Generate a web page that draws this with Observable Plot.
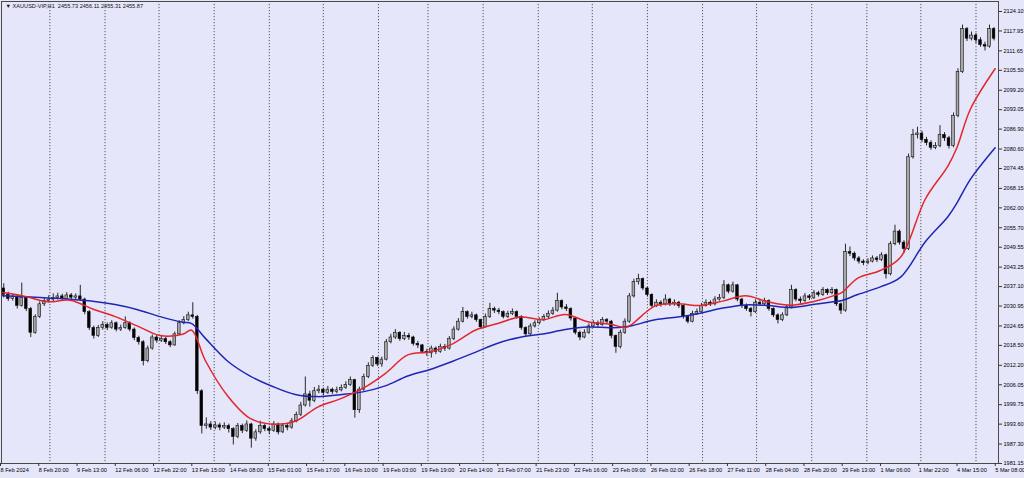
<!DOCTYPE html>
<html><head><meta charset="utf-8">
<script src="https://cdn.jsdelivr.net/npm/d3@7"></script>
<script src="https://cdn.jsdelivr.net/npm/@observablehq/plot@0.6"></script>
<style>
html,body{margin:0;padding:0;background:#e6e6fa;}
#chart{width:1024px;height:478px;overflow:hidden}
</style></head><body><div id="chart"></div>
<script>
const symbolTitle = "▼ XAUUSD-VIP,H1  2455.73 2456.11 2455.31 2455.87";
const firstOpen = 2036.5;
const close = [
2034.5,2033.2,2033.8,2031.0,2033.5,2030.0,2022.5,2027.5,2031.5,2032.5,
2033.0,2033.5,2034.0,2033.2,2034.3,2033.6,2034.0,2033.0,2029.0,2024.0,
2021.5,2024.0,2025.0,2024.0,2025.5,2023.5,2024.0,2025.5,2023.5,2020.8,
2019.5,2013.5,2017.5,2021.0,2020.0,2020.5,2019.5,2018.5,2022.0,2025.5,
2026.5,2028.0,2027.5,2004.0,1993.0,1993.5,1992.5,1993.2,1992.5,1993.0,
1992.0,1989.5,1993.0,1991.5,1993.5,1989.0,1991.0,1993.0,1992.0,1991.5,
1993.5,1991.0,1993.0,1992.5,1994.5,1996.5,1999.5,2003.0,2001.0,2004.0,
2004.5,2003.5,2004.5,2003.8,2004.3,2005.0,2006.0,2007.5,1998.0,2004.5,
2008.5,2012.0,2014.5,2012.5,2014.0,2019.5,2021.0,2022.5,2020.5,2021.5,
2021.0,2019.0,2018.5,2016.5,2016.0,2017.5,2016.5,2018.0,2017.5,2020.5,
2023.5,2026.0,2029.0,2027.5,2028.0,2026.5,2024.2,2027.5,2030.0,2029.5,
2029.0,2027.5,2028.5,2029.0,2027.5,2024.0,2022.0,2024.5,2025.5,2026.5,
2027.5,2028.5,2029.5,2032.5,2030.5,2030.0,2027.0,2022.5,2021.0,2022.5,
2024.5,2025.5,2025.0,2026.5,2026.0,2021.5,2018.0,2022.5,2026.0,2034.0,
2038.5,2039.5,2036.5,2034.5,2031.0,2032.0,2031.5,2033.0,2031.5,2032.0,
2031.0,2027.5,2026.0,2028.5,2029.0,2031.0,2032.0,2031.5,2033.0,2033.5,
2037.5,2035.5,2037.5,2033.0,2031.0,2030.0,2029.0,2032.0,2031.5,2032.5,
2030.0,2028.0,2026.5,2028.0,2030.5,2036.0,2033.0,2032.5,2034.0,2033.5,
2035.0,2034.5,2036.0,2035.0,2036.0,2031.5,2029.5,2048.0,2047.5,2046.0,
2045.0,2044.5,2045.0,2046.0,2045.5,2047.0,2041.0,2050.5,2054.5,2051.0,
2049.0,2078.0,2085.0,2085.5,2083.5,2082.5,2081.0,2081.5,2085.0,2084.0,
2081.5,2091.0,2105.0,2118.5,2115.5,2116.5,2115.0,2113.5,2113.0,2118.5,
2115.5];
const high = [
2038.0,2035.3,2034.6,2034.2,2038.2,2034.0,2030.5,2028.2,2032.3,2033.6,
2034.2,2034.8,2035.0,2034.7,2035.2,2034.9,2034.8,2037.5,2033.4,2029.5,
2024.6,2024.8,2026.0,2025.6,2026.3,2025.9,2024.9,2027.5,2026.0,2024.0,
2021.4,2020.0,2018.3,2021.8,2021.7,2021.3,2021.0,2020.0,2022.7,2026.3,
2027.6,2029.0,2032.0,2028.0,2004.5,1995.6,1994.4,1994.3,1993.9,1994.0,
1993.6,1992.5,1993.8,1993.6,1994.6,1993.9,1991.8,1994.5,1993.6,1992.8,
1994.4,1993.9,1993.8,1993.7,1995.4,1997.4,2000.5,2008.5,2004.0,2005.2,
2005.8,2005.0,2005.5,2005.0,2005.3,2006.0,2007.0,2008.5,2007.8,2005.3,
2009.4,2013.0,2015.2,2014.8,2014.8,2020.4,2022.0,2023.5,2022.8,2022.6,
2022.3,2021.4,2019.8,2018.8,2017.3,2018.3,2018.0,2018.9,2018.8,2021.3,
2024.4,2027.0,2030.5,2029.4,2029.0,2028.4,2026.8,2028.4,2031.8,2030.6,
2030.2,2029.4,2029.3,2030.0,2029.4,2027.9,2024.4,2025.3,2026.3,2027.2,
2028.3,2029.4,2030.5,2035.0,2032.9,2031.4,2030.4,2027.4,2023.0,2023.4,
2025.3,2026.3,2026.2,2027.3,2027.0,2026.4,2021.8,2023.3,2026.9,2034.9,
2039.4,2041.0,2039.8,2036.9,2034.8,2032.9,2032.6,2034.5,2033.4,2032.9,
2032.4,2031.3,2027.9,2029.3,2030.0,2031.8,2032.9,2032.6,2033.9,2034.6,
2039.0,2037.9,2038.5,2037.8,2033.4,2031.6,2030.5,2032.9,2032.7,2033.4,
2032.9,2030.4,2028.5,2028.8,2031.3,2037.5,2036.4,2033.8,2034.9,2034.6,
2035.9,2035.6,2036.8,2036.4,2036.8,2036.3,2031.9,2050.5,2049.6,2048.0,
2046.6,2045.6,2045.9,2046.8,2046.6,2047.8,2047.4,2051.3,2056.5,2055.0,
2051.6,2079.0,2086.8,2087.5,2086.2,2084.3,2083.2,2082.6,2088.0,2085.8,
2084.6,2092.0,2106.0,2119.8,2119.0,2117.6,2117.2,2115.8,2114.4,2119.8,
2119.0];
const low = [
2033.5,2032.4,2032.5,2030.0,2030.6,2029.2,2021.0,2022.0,2027.0,2030.8,
2031.9,2032.4,2032.9,2032.6,2032.8,2033.0,2032.9,2032.4,2028.2,2023.2,
2020.5,2021.0,2023.3,2023.2,2023.6,2022.8,2022.9,2023.6,2022.8,2020.0,
2018.6,2012.0,2013.0,2017.0,2019.2,2019.4,2018.8,2017.8,2018.2,2021.6,
2025.0,2026.0,2026.8,2003.0,1990.5,1992.0,1991.6,1991.8,1991.5,1991.9,
1990.8,1987.0,1989.0,1990.6,1991.0,1986.0,1988.2,1990.4,1991.2,1990.3,
1991.0,1990.2,1990.6,1991.5,1992.0,1994.0,1996.0,1999.0,1999.0,2000.4,
2003.2,2002.6,2003.0,2003.0,2003.2,2003.8,2004.6,2005.5,1995.5,1997.0,
2004.0,2008.0,2011.5,2011.8,2011.6,2013.6,2019.0,2020.4,2019.8,2020.0,
2020.1,2018.3,2017.5,2015.8,2015.0,2014.5,2015.6,2016.0,2016.6,2017.0,
2020.0,2023.0,2025.6,2026.8,2026.9,2025.8,2023.5,2024.0,2027.0,2028.6,
2028.2,2026.9,2027.0,2027.9,2026.8,2023.3,2021.0,2021.6,2024.0,2025.0,
2026.0,2027.0,2028.0,2029.0,2029.8,2029.2,2026.2,2021.8,2020.0,2020.6,
2022.0,2024.0,2024.2,2024.6,2025.2,2020.6,2016.0,2017.4,2022.0,2025.5,
2033.5,2037.6,2035.8,2033.8,2030.3,2030.5,2030.6,2031.0,2030.8,2030.9,
2030.2,2026.8,2025.3,2025.6,2028.0,2028.6,2030.6,2030.8,2031.0,2032.5,
2033.0,2034.8,2035.0,2032.3,2030.2,2029.3,2027.5,2028.6,2030.8,2031.0,
2029.3,2027.3,2025.3,2026.0,2027.6,2030.0,2032.3,2031.6,2032.0,2032.7,
2033.0,2033.8,2034.0,2034.3,2034.5,2030.8,2028.3,2029.0,2046.6,2045.2,
2044.2,2043.7,2044.0,2044.6,2044.7,2045.0,2039.5,2040.5,2050.0,2050.2,
2047.5,2048.5,2077.4,2083.8,2082.7,2081.6,2080.2,2080.4,2081.0,2083.0,
2080.6,2081.0,2090.5,2104.5,2114.6,2114.8,2114.0,2112.8,2111.6,2112.5,
2114.8];
const maBars = [0,10,20,30,40,50,60,70,80,84,90,100,110,120,130,140,150,160,170,180,190,200,210,220,230,240,250,260,270,277,280,290,300,310,320,330,340,350,360,370,373,380,390,399,410,420,424,430,441];
const maFast = [2035.2,2034.0,2032.3,2032.8,2030.0,2027.6,2024.6,2021.6,2022.0,2023.3,2013.8,2002.5,1995.4,1993.6,1994.5,1999.0,2001.6,2004.9,2009.6,2015.5,2016.5,2019.0,2023.3,2025.4,2027.5,2026.6,2028.3,2026.0,2025.2,2024.2,2025.4,2031.0,2031.7,2031.1,2032.5,2034.2,2032.3,2031.2,2032.3,2034.4,2035.3,2039.8,2042.2,2046.4,2064.8,2075.2,2081.0,2093.2,2106.0];
const maSlow = [2034.2,2033.9,2033.5,2033.1,2032.5,2031.4,2029.8,2027.6,2025.8,2025.4,2020.8,2013.5,2008.8,2005.5,2003.0,2002.3,2002.9,2003.8,2005.7,2008.8,2010.9,2013.5,2016.3,2019.2,2021.1,2022.1,2023.5,2024.3,2024.1,2024.4,2024.8,2026.6,2027.5,2028.7,2030.3,2031.3,2031.1,2030.5,2031.4,2032.4,2032.7,2034.6,2037.0,2040.1,2051.3,2059.2,2063.5,2071.0,2081.0];
const gridBars = [21.5,46,70,94.5,119,143,167.5,189.5,214,238.5,262.5,287,311.5,335.5,360,384.5,408.5,433];
const yTicks = [2124.10,2117.95,2111.65,2105.50,2099.20,2093.05,2086.90,2080.60,2074.45,2068.15,2062.00,2055.70,2049.55,2043.25,2037.10,2030.95,2024.65,2018.50,2012.20,2006.05,1999.75,1993.60,1987.30,1981.15];
const xTickLabels = ["8 Feb 2024","8 Feb 20:00","9 Feb 13:00","12 Feb 06:00","12 Feb 22:00","13 Feb 15:00","14 Feb 08:00","15 Feb 01:00","15 Feb 17:00","16 Feb 10:00","19 Feb 03:00","19 Feb 19:00","20 Feb 14:00","21 Feb 07:00","21 Feb 23:00","22 Feb 16:00","23 Feb 09:00","26 Feb 02:00","26 Feb 18:00","27 Feb 11:00","28 Feb 04:00","28 Feb 20:00","29 Feb 13:00","1 Mar 06:00","1 Mar 22:00","4 Mar 15:00","5 Mar 08:00"];
const barsPerLabel = 17;
const barsPerCandle = 2;

const candles = close.map((c, k) => ({
  bar: k * barsPerCandle,
  open: k ? close[k - 1] : firstOpen,
  close: c, high: high[k], low: low[k]
}));
const ma = maBars.map((b, i) => ({bar: b, fast: maFast[i], slow: maSlow[i]}));
const xTickBars = xTickLabels.map((_, i) => i * barsPerLabel);
const labelByBar = new Map(xTickBars.map((b, i) => [b, xTickLabels[i]]));

const font = "Liberation Sans, Arial, sans-serif";
const chart = Plot.plot({
  width: 1024, height: 478,
  marginLeft: 1, marginRight: 26, marginTop: 1, marginBottom: 15,
  style: {background: "#e6e6fa", fontFamily: font, fontSize: "5.6px", color: "#000"},
  x: {domain: [0, 443], axis: null},
  y: {domain: [1981.15, 2127.26], axis: null},
  marks: [
    Plot.ruleX(gridBars, {x: d => d, stroke: "#333", strokeWidth: 0.8, strokeDasharray: "1.2,1.8"}),
    Plot.ruleX(candles, {x: d => d.bar + 1, y1: "low", y2: "high", stroke: "#111", strokeWidth: 0.9}),
    Plot.rect(candles, {
      x1: d => d.bar + 0.4, x2: d => d.bar + 1.6,
      y1: "open", y2: "close",
      fill: d => d.close >= d.open ? "#a8a8a8" : "#000000",
      stroke: "#111", strokeWidth: 0.6, inset: 0
    }),
    Plot.line(ma, {x: d => d.bar + 0.5, y: "slow", stroke: "#1f26b4", strokeWidth: 1.5, curve: "catmull-rom"}),
    Plot.line(ma, {x: d => d.bar + 0.5, y: "fast", stroke: "#e3262c", strokeWidth: 1.5, curve: "catmull-rom"}),
    Plot.frame({stroke: "#4a4a4a", strokeWidth: 1}),
    Plot.axisY(yTicks, {anchor: "right", tickSize: 3, tickPadding: 2, tickFormat: d => d.toFixed(2), fontSize: 5.6, label: null, stroke: "#333"}),
    Plot.axisX(xTickBars, {anchor: "bottom", tickSize: 3, tickPadding: 1.5, tickFormat: d => labelByBar.get(d), textAnchor: "start", dx: -1, fontSize: 5.6, label: null, stroke: "#333"}),
    Plot.text([symbolTitle], {text: d => d, frameAnchor: "top-left", dx: 4, dy: 3, textAnchor: "start", fontSize: 5.6, fill: "#111"})
  ]
});
document.getElementById("chart").appendChild(chart);
</script>
</body></html>
